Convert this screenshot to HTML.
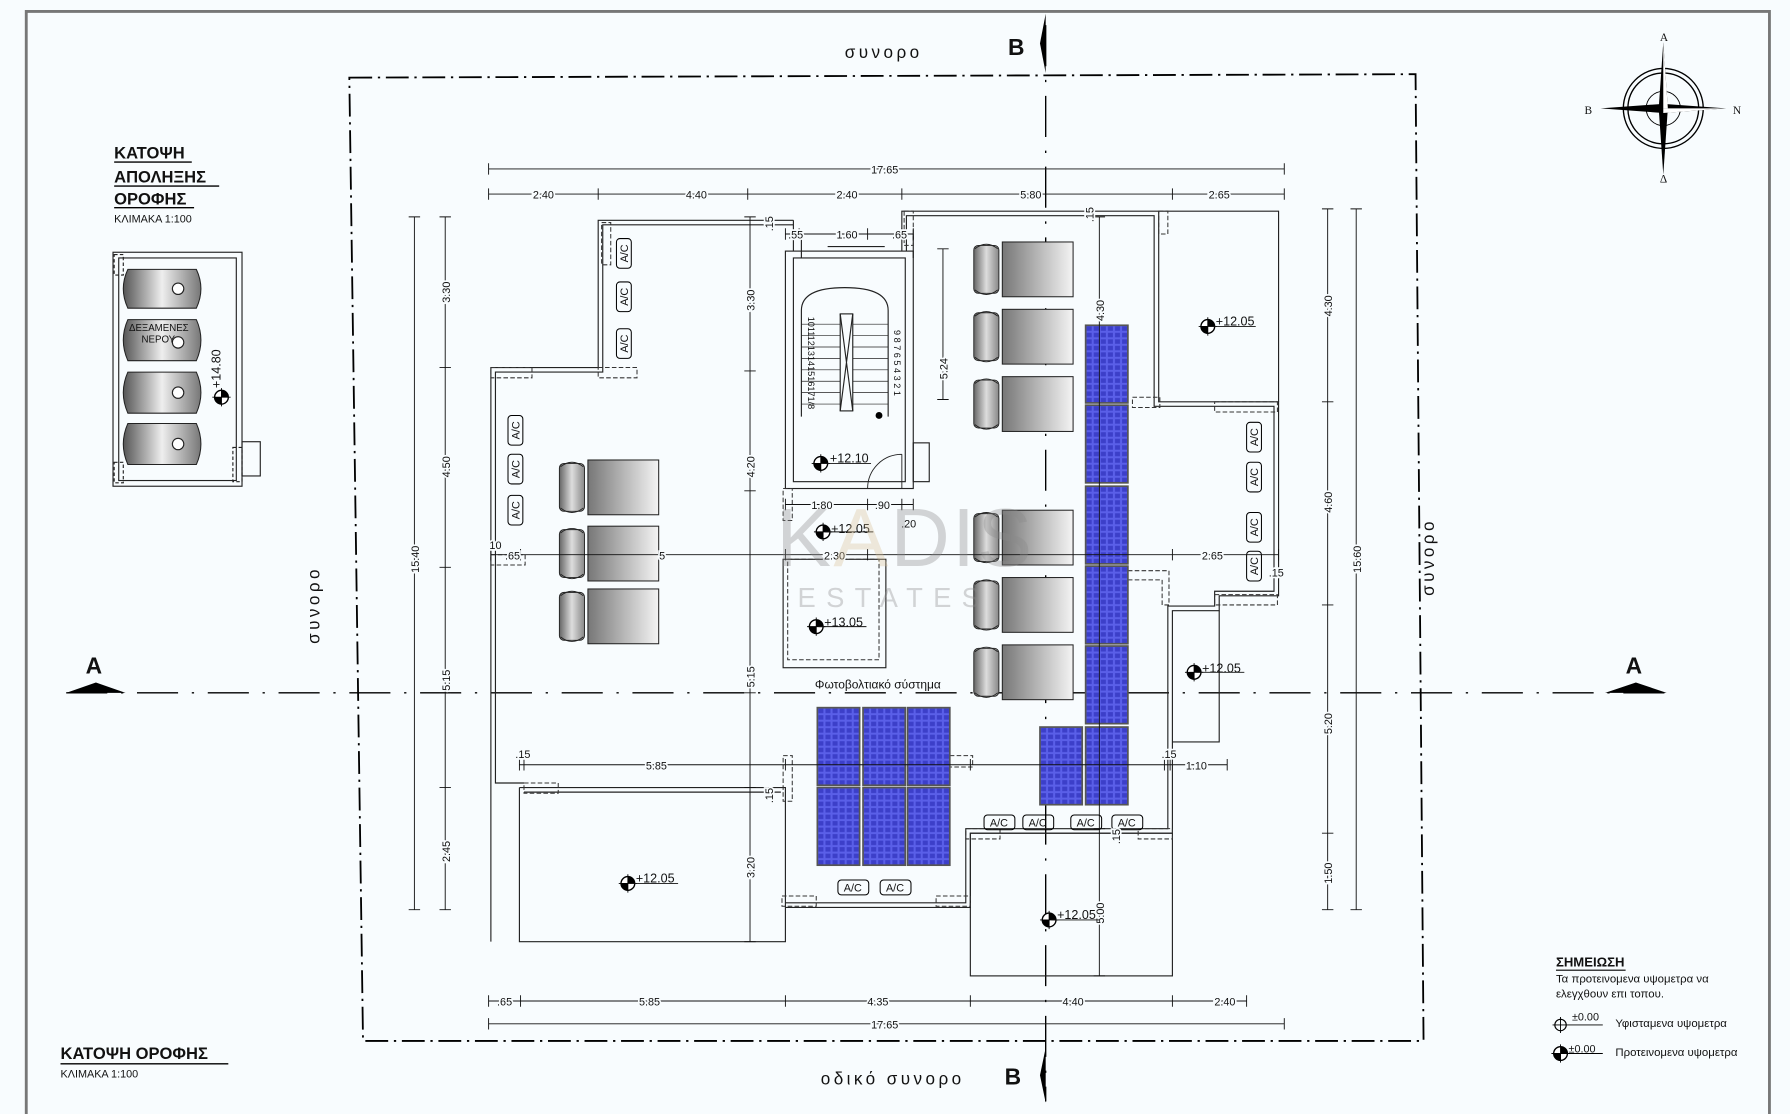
<!DOCTYPE html>
<html><head><meta charset="utf-8"><style>
html,body{margin:0;padding:0;background:#f8fcfe;}
svg{display:block}
text{font-family:"Liberation Sans",sans-serif;fill:#111}
</style></head><body>
<svg width="1790" height="1114" viewBox="0 0 1568 976" preserveAspectRatio="none" xmlns="http://www.w3.org/2000/svg">
<defs>
<linearGradient id="g" x1="0" x2="1"><stop offset="0" stop-color="#777"/><stop offset="1" stop-color="#f4f4f4"/></linearGradient>
<linearGradient id="gp" x1="0" x2="1"><stop offset="0" stop-color="#666"/><stop offset="0.5" stop-color="#ddd"/><stop offset="1" stop-color="#888"/></linearGradient>
<linearGradient id="gt" x1="0" x2="1"><stop offset="0" stop-color="#555"/><stop offset="0.5" stop-color="#eee"/><stop offset="1" stop-color="#777"/></linearGradient>
<pattern id="pv" width="6.2" height="5.7" patternUnits="userSpaceOnUse"><rect width="6.2" height="5.7" fill="#5a5fe8"/><rect width="4.4" height="3.9" x="0.9" y="0.9" fill="#3c3fc9"/></pattern>
<g id="ch"><rect x="0" y="3" width="22" height="42" rx="4" fill="url(#gp)" stroke="#222" stroke-width="0.8"/><path d="M1,6 Q11,-2 21,6 M1,42 Q11,50 21,42" fill="none" stroke="#222" stroke-width="0.8"/><rect x="25" y="0" width="62" height="48" fill="url(#g)" stroke="#222" stroke-width="0.9"/></g>
<g id="pn"><rect x="0" y="0" width="37" height="68" fill="url(#pv)" stroke="#555" stroke-width="1.5"/></g>
<g id="lvl"><circle r="6" fill="#fff" stroke="#000" stroke-width="1.2"/><path d="M0,-6 A6,6 0 0 1 6,0 L0,0Z M0,6 A6,6 0 0 1 -6,0 L0,0Z" fill="#000"/><path d="M-8,0H8M0,-8V8" stroke="#000" stroke-width="0.8"/></g>
</defs>

<path d="M23,976 V10 H1550 V976" fill="none" stroke="#777" stroke-width="2.5"/>

<path d="M306,68 L1240,65 L1247,912 L318,912 Z" fill="none" stroke="#000" stroke-width="1.6" stroke-dasharray="20,5,2,5"/>
<path d="M916,22 V965" stroke="#000" stroke-width="1.2" stroke-dasharray="36,12,2,12"/>
<path d="M58,607 H1462" stroke="#000" stroke-width="1.2" stroke-dasharray="36,12,2,12"/>
<polygon points="916,12 911,38 916,64" fill="#000"/>
<polygon points="916,918 911,942 916,966" fill="#000"/>
<polygon points="58,607 84,598 110,607" fill="#000"/>
<polygon points="1406,607 1433,598 1460,607" fill="#000"/>
<text x="75" y="590" font-size="20" font-weight="bold">A</text>
<text x="1424" y="590" font-size="20" font-weight="bold">A</text>
<text x="883" y="48" font-size="20" font-weight="bold">B</text>
<text x="880" y="950" font-size="20" font-weight="bold">B</text>
<text x="740" y="51" font-size="15" letter-spacing="3">συνορο</text>
<text x="719" y="950" font-size="15" letter-spacing="3">οδικό συνορο</text>
<text transform="translate(280,530) rotate(-90)" font-size="15" letter-spacing="3" text-anchor="middle">συνορο</text>
<text transform="translate(1256,488) rotate(-90)" font-size="15" letter-spacing="3" text-anchor="middle">συνορο</text>

<g font-weight="bold" font-size="14.5"><text x="100" y="139">ΚΑΤΟΨΗ</text><text x="100" y="160">ΑΠΟΛΗΞΗΣ</text><text x="100" y="179">ΟΡΟΦΗΣ</text></g>
<path d="M100,142H168M100,163H192M100,182H170" stroke="#000" stroke-width="1.2"/>
<text x="100" y="195" font-size="9.5">ΚΛΙΜΑΚΑ 1:100</text>
<text x="53" y="928" font-size="14.5" font-weight="bold">ΚΑΤΟΨΗ ΟΡΟΦΗΣ</text>
<path d="M53,932H200" stroke="#000" stroke-width="1.2"/>
<text x="53" y="944" font-size="9.5">ΚΛΙΜΑΚΑ 1:100</text>

<g fill="none" stroke="#222" stroke-width="1">
<rect x="99" y="221" width="113" height="205"/><rect x="104" y="226" width="103" height="195"/>
<rect x="212" y="387" width="16" height="30"/>
<rect x="100" y="223" width="8" height="18" stroke-dasharray="3,2"/><rect x="100" y="405" width="8" height="18" stroke-dasharray="3,2"/><rect x="204" y="392" width="8" height="30" stroke-dasharray="3,2"/>
</g>
<g stroke="#222" stroke-width="0.9" fill="url(#gt)">
<path d="M112,236 H172 Q180,253 172,270 H112 Q104,253 112,236Z"/>
<path d="M112,280 H172 Q180,298 172,316 H112 Q104,298 112,280Z"/>
<path d="M112,326 H172 Q180,344 172,362 H112 Q104,344 112,326Z"/>
<path d="M112,371 H172 Q180,389 172,407 H112 Q104,389 112,371Z"/>
</g>
<g fill="#fff" stroke="#222"><circle cx="156" cy="253" r="5"/><circle cx="156" cy="300" r="5"/><circle cx="156" cy="344" r="5"/><circle cx="156" cy="389" r="5"/></g>
<text x="113" y="290" font-size="8.5">ΔΕΞΑΜΕΝΕΣ</text><text x="124" y="300" font-size="8.5">ΝΕΡΟΥ</text>
<use href="#lvl" x="194" y="348"/>
<text transform="translate(193,340) rotate(-90)" font-size="11">+14.80</text>

<g transform="translate(1457,95)">
<circle r="35" fill="none" stroke="#000" stroke-width="1.2"/><circle r="31" fill="none" stroke="#000" stroke-width="1.2"/><circle r="15" fill="none" stroke="#000" stroke-width="0.8"/>
<polygon points="0,-58 4,0 0,58 -4,0" fill="#000"/><polygon points="-55,0 0,-4 55,0 0,4" fill="#000"/>
<polygon points="0,-58 4,0 0,0" fill="#fff"/><polygon points="55,0 0,4 0,0" fill="#fff"/>
<text x="-3" y="-59" font-size="10" style="font-family:'Liberation Serif'">Α</text>
<text x="-69" y="5" font-size="10" style="font-family:'Liberation Serif'">Β</text>
<text x="61" y="5" font-size="10" style="font-family:'Liberation Serif'">Ν</text>
<text x="-3" y="65" font-size="10" style="font-family:'Liberation Serif'">Δ</text>
</g>

<g fill="none" stroke="#222" stroke-width="1">
<path d="M695,193 H524 V322 H430 V497 V690 V825"/>
<path d="M695,197 H528 V326 H434 V686 H459"/>
<path d="M455,690 H688 V825 H455 V690"/>
<path d="M459,694 H684"/>
<rect x="688" y="220" width="112" height="208"/><rect x="695" y="226" width="98" height="196"/>
<path d="M695,220 V193 M790,220 V185 H1015 V352 H1120 V522 H1068 V535 H1027 V730 H850 V795 H688"/>
<path d="M794,220 V189 H1011 V356 H1116 V518 H1064 V531 H1023 V726 H846 V791 H688"/>
<path d="M1015,185 H1120 V352"/>
<path d="M1068,535 V650 H1027"/>
<rect x="850" y="730" width="177" height="125"/>
<rect x="686" y="490" width="90" height="95"/>
<path d="M760,428 A30,30 0 0 1 790,398 M790,398 V428" stroke-width="0.8"/>
<rect x="800" y="388" width="14" height="34"/>
<path d="M702,272 V365 M778,272 V365 M702,272 Q702,252 740,252 Q778,252 778,272" />
<rect x="736" y="275" width="11" height="85"/><path d="M736,275 L747,360 M747,275 L736,360"/>
<path d="M702,284H736M702,294H736M702,304H736M702,314H736M702,324H736M702,334H736M702,344H736M702,354H736M747,284H778M747,294H778M747,304H778M747,314H778M747,324H778M747,334H778M747,344H778M747,354H778" stroke-width="0.6"/>
<path d="M702,205 V226 M800,205 V226 M725,216 H775" />
</g>
<g font-size="8" text-anchor="middle">
<text transform="translate(708,318) rotate(90)">10111213141516171/8</text>
<text transform="translate(783,318) rotate(90)">9 8 7 6 5 4 3 2 1</text>
</g>
<circle cx="770" cy="364" r="3" fill="#000"/>
<g fill="none" stroke="#333" stroke-width="0.9" stroke-dasharray="4,2">
<rect x="527" y="195" width="8" height="37"/><rect x="524" y="322" width="34" height="9"/><rect x="430" y="322" width="36" height="9"/>
<rect x="430" y="486" width="30" height="9"/><rect x="459" y="686" width="30" height="9"/>
<rect x="686" y="428" width="8" height="28"/><rect x="690" y="490" width="80" height="88"/>
<rect x="685" y="785" width="30" height="9"/><rect x="820" y="785" width="30" height="9"/>
<rect x="686" y="662" width="8" height="40"/><rect x="832" y="662" width="20" height="10"/>
<rect x="846" y="726" width="30" height="9"/><rect x="997" y="726" width="30" height="9"/>
<rect x="1015" y="185" width="8" height="20"/><rect x="992" y="348" width="24" height="9"/><rect x="1064" y="352" width="55" height="9"/>
<path d="M988,500 H1024 V530 H1018 V508 H988"/><rect x="1064" y="521" width="55" height="9"/>
<rect x="792" y="185" width="8" height="30"/>
</g>

<use href="#ch" x="490" y="403"/><use href="#ch" x="490" y="461"/><use href="#ch" x="490" y="516"/>
<use href="#ch" x="853" y="212"/><use href="#ch" x="853" y="271"/><use href="#ch" x="853" y="330"/>
<use href="#ch" x="853" y="447"/><use href="#ch" x="853" y="506"/><use href="#ch" x="853" y="565"/>

<use href="#pn" x="951" y="285"/><use href="#pn" x="951" y="355"/><use href="#pn" x="951" y="426"/><use href="#pn" x="951" y="496"/><use href="#pn" x="951" y="566"/><use href="#pn" x="951" y="637"/>
<use href="#pn" x="911" y="637"/>
<use href="#pn" x="716" y="620"/><use href="#pn" x="756" y="620"/><use href="#pn" x="795" y="620"/>
<use href="#pn" x="716" y="690"/><use href="#pn" x="756" y="690"/><use href="#pn" x="795" y="690"/>
<text x="769" y="603" font-size="10.5" text-anchor="middle">Φωτοβολτιακό σύστημα</text>

<g font-size="9.5" text-anchor="middle">
<g fill="none" stroke="#000" stroke-width="0.9">
<rect x="540" y="209" width="13" height="26" rx="3"/><rect x="540" y="247" width="13" height="26" rx="3"/><rect x="540" y="288" width="13" height="26" rx="3"/>
<rect x="445" y="364" width="13" height="26" rx="3"/><rect x="445" y="398" width="13" height="26" rx="3"/><rect x="445" y="434" width="13" height="26" rx="3"/>
<rect x="1092" y="370" width="13" height="26" rx="3"/><rect x="1092" y="405" width="13" height="26" rx="3"/><rect x="1092" y="449" width="13" height="26" rx="3"/><rect x="1092" y="483" width="13" height="26" rx="3"/>
<rect x="862" y="714" width="27" height="13" rx="3"/><rect x="896" y="714" width="27" height="13" rx="3"/><rect x="938" y="714" width="27" height="13" rx="3"/><rect x="974" y="714" width="27" height="13" rx="3"/>
<rect x="734" y="771" width="27" height="13" rx="3"/><rect x="771" y="771" width="27" height="13" rx="3"/>
</g>
<text transform="translate(550,222) rotate(-90)">A/C</text><text transform="translate(550,260) rotate(-90)">A/C</text><text transform="translate(550,301) rotate(-90)">A/C</text>
<text transform="translate(455,377) rotate(-90)">A/C</text><text transform="translate(455,411) rotate(-90)">A/C</text><text transform="translate(455,447) rotate(-90)">A/C</text>
<text transform="translate(1102,383) rotate(-90)">A/C</text><text transform="translate(1102,418) rotate(-90)">A/C</text><text transform="translate(1102,462) rotate(-90)">A/C</text><text transform="translate(1102,496) rotate(-90)">A/C</text>
<text x="875" y="724">A/C</text><text x="909" y="724">A/C</text><text x="951" y="724">A/C</text><text x="987" y="724">A/C</text>
<text x="747" y="781">A/C</text><text x="784" y="781">A/C</text>
</g>

<g stroke="#111" stroke-width="0.8" fill="none">
<path d="M428,148H1125 M428,170H1125 M688,205H800 M688,442H800 M430,486H1120 M455,670H1075 M428,877H1092 M428,897H1125"/>
<path d="M363,190V797 M390,190V797 M657,190V825 M826,218V350 M1163,183V797 M1188,183V797 M963,190V855"/>
<path d="M428,143v10M1125,143v10 M428,165v10M524,165v10M655,165v10M790,165v10M1027,165v10M1125,165v10 M688,200v10M700,200v10M760,200v10M790,200v10M800,200v10 M688,437v10M760,437v10M790,437v10M800,437v10 M430,481v10M456,481v10M688,481v10M760,481v10M1027,481v10M1120,481v10 M455,665v10M459,665v10M688,665v10M850,665v10M1020,665v10M1025,665v10M1075,665v10 M428,872v10M456,872v10M688,872v10M850,872v10M1027,872v10M1092,872v10 M428,892v10M1125,892v10"/>
<path d="M358,190h10M358,797h10 M385,190h10M385,322h10M385,497h10M385,607h10M385,690h10M385,797h10 M652,190h10M652,325h10M652,430h10M652,607h10M652,690h10M652,825h10 M821,218h10M821,350h10 M1158,183h10M1158,352h10M1158,530h10M1158,730h10M1158,797h10 M1183,183h10M1183,797h10 M958,190h10M958,726h10M958,855h10"/>
</g>
<g font-size="9.5" text-anchor="middle" style="paint-order:stroke" stroke="#f8fcfe" stroke-width="3">
<text x="775" y="152">17.65</text>
<text x="476" y="174">2.40</text><text x="610" y="174">4.40</text><text x="742" y="174">2.40</text><text x="903" y="174">5.80</text><text x="1068" y="174">2.65</text>
<text x="697" y="209">.55</text><text x="742" y="209">1.60</text><text x="788" y="209">.65</text>
<text x="720" y="446">1.80</text><text x="773" y="446">.90</text><text x="796" y="462">.20</text>
<text x="434" y="481">10</text><text x="449" y="490">.65</text><text x="580" y="490">5</text><text x="731" y="490">2.30</text><text x="1062" y="490">2.65</text><text x="1118" y="505">.15</text>
<text x="458" y="664">.15</text><text x="575" y="674">5.85</text><text x="1024" y="664">.15</text><text x="1048" y="674">1.10</text>
<text x="442" y="881">.65</text><text x="569" y="881">5.85</text><text x="769" y="881">4.35</text><text x="940" y="881">4.40</text><text x="1073" y="881">2.40</text>
<text x="775" y="901">17.65</text>
<text transform="translate(367,490) rotate(-90)">15.40</text>
<text transform="translate(394,256) rotate(-90)">3.30</text><text transform="translate(394,409) rotate(-90)">4.50</text><text transform="translate(394,596) rotate(-90)">5.15</text><text transform="translate(394,746) rotate(-90)">2.45</text>
<text transform="translate(661,263) rotate(-90)">3.30</text><text transform="translate(661,409) rotate(-90)">4.20</text><text transform="translate(661,593) rotate(-90)">5.15</text><text transform="translate(661,760) rotate(-90)">3.20</text><text transform="translate(677,697) rotate(-90)">.15</text>
<text transform="translate(830,323) rotate(-90)">5.24</text>
<text transform="translate(1167,268) rotate(-90)">4.30</text><text transform="translate(1167,440) rotate(-90)">4.60</text><text transform="translate(1167,634) rotate(-90)">5.20</text><text transform="translate(1167,765) rotate(-90)">1.50</text>
<text transform="translate(1192,490) rotate(-90)">15.60</text>
<text transform="translate(967,272) rotate(-90)">4.30</text><text transform="translate(967,800) rotate(-90)">5.00</text><text transform="translate(958,188) rotate(-90)">.15</text><text transform="translate(981,733) rotate(-90)">.15</text><text transform="translate(677,196) rotate(-90)">.15</text>
</g>

<g font-size="11">
<use href="#lvl" x="1058" y="286"/><text x="1065" y="285">+12.05</text>
<use href="#lvl" x="719" y="406"/><text x="727" y="405">+12.10</text>
<use href="#lvl" x="721" y="466"/><text x="728" y="467">+12.05</text>
<use href="#lvl" x="715" y="549"/><text x="722" y="549">+13.05</text>
<use href="#lvl" x="1046" y="589"/><text x="1053" y="589">+12.05</text>
<use href="#lvl" x="550" y="774"/><text x="557" y="773">+12.05</text>
<use href="#lvl" x="919" y="806"/><text x="926" y="805">+12.05</text>
</g>
<g stroke="#111" stroke-width="0.8"><path d="M1060,286H1100M721,406H763M723,466H765M717,549H759M1048,589H1090M552,774H594M921,806H963"/></g>

<!-- watermark -->
<g opacity="0.35">
<text x="680" y="496" font-size="72" style="fill:#8a8a8a" letter-spacing="2">K<tspan style="fill:#d9c39a">A</tspan>DIS</text>
<text x="783" y="532" font-size="24" text-anchor="middle" style="fill:#8a8a8a" letter-spacing="9">ESTATES</text>
</g>

<text x="1363" y="847" font-size="11.5" font-weight="bold">ΣΗΜΕΙΩΣΗ</text>
<path d="M1363,850H1424" stroke="#000"/>
<text x="1363" y="861" font-size="10">Τα προτεινομενα υψομετρα να</text>
<text x="1363" y="874" font-size="10">ελεγχθουν επι τοπου.</text>
<circle cx="1367" cy="898" r="5" fill="none" stroke="#000"/><path d="M1360,898H1404M1367,891V905" stroke="#000" stroke-width="0.8"/>
<text x="1377" y="894" font-size="9.5">±0.00</text><text x="1415" y="900" font-size="10">Υφισταμενα υψομετρα</text>
<use href="#lvl" x="1367" y="923"/><path d="M1367,923H1404" stroke="#000" stroke-width="0.8"/>
<text x="1374" y="922" font-size="9.5">±0.00</text><text x="1415" y="925" font-size="10">Προτεινομενα υψομετρα</text>
</svg>
</body></html>
